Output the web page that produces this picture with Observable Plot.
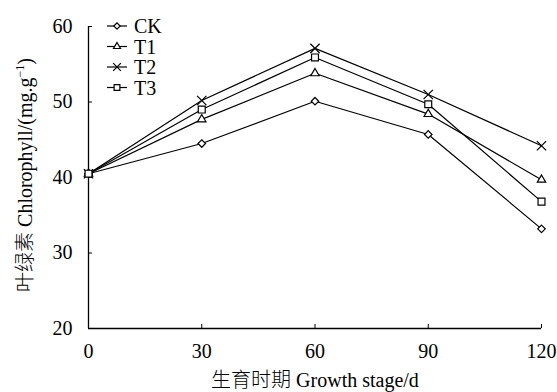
<!DOCTYPE html>
<html><head><meta charset="utf-8">
<script src="https://cdn.jsdelivr.net/npm/d3@7"></script>
<script src="https://cdn.jsdelivr.net/npm/@observablehq/plot@0.6"></script>
<style>body{margin:0;background:#fff}#chart{position:relative;width:557px;height:392px}</style>
</head><body><div id="chart"></div>
<script>
const days = [0, 30, 60, 90, 120];
const seriesNames = ["CK", "T1", "T2", "T3"];
const CK = [40.5, 44.5, 50.1, 45.7, 33.2];
const T1 = [40.5, 47.7, 53.8, 48.4, 39.7];
const T2 = [40.5, 50.2, 57.1, 51.0, 44.2];
const T3 = [40.5, 49.0, 55.9, 49.7, 36.8];
const yTicks = [20, 30, 40, 50, 60];
const xTicks = [0, 30, 60, 90, 120];
const xTitleZh = "生育时期";
const xTitleEn = " Growth stage/d";
const yTitleZh = "叶绿素";
const yTitleEn = " Chlorophyll/(mg.g";
const yTitleSup = "−1";

const valuesBy = {CK, T1, T2, T3};
const symbolBy = {CK: "diamond2", T1: "triangle2", T2: "times", T3: "square2"};
const rBy = {CK: 3.4, T1: 4.0, T2: 4.3, T3: 4.4};
const rows = seriesNames.flatMap(s => days.map((d, i) => ({series: s, day: d, value: valuesBy[s][i]})));

const font = "'Liberation Serif','Times New Roman','Noto Sans CJK SC',serif";
const FS = 20;
const marks = [
  Plot.axisX({ticks: xTicks, tickSize: -4, tickPadding: 19, label: null, fontSize: FS}),
  Plot.axisY({ticks: yTicks, tickSize: -4, tickPadding: 20, label: null, fontSize: FS}),
  Plot.ruleX([0], {y1: 20, y2: 60, stroke: "black", strokeWidth: 1.3}),
  Plot.ruleY([20], {x1: 0, x2: 120, stroke: "black", strokeWidth: 1.3}),
  Plot.line(rows, {x: "day", y: "value", z: "series", stroke: "black", strokeWidth: 1.2})
];
for (const s of seriesNames) {
  marks.push(Plot.dot(rows.filter(d => d.series === s), {x: "day", y: "value", symbol: symbolBy[s], r: rBy[s], stroke: "black", fill: "white", strokeWidth: 1.2}));
}
const plot = Plot.plot({
  width: 557, height: 392,
  marginLeft: 88, marginRight: 16, marginTop: 26, marginBottom: 64,
  x: {domain: [0, 120]},
  y: {domain: [20, 60]},
  style: {fontFamily: font, fontSize: FS + "px", color: "black", background: "white"},
  marks
});
document.getElementById("chart").appendChild(plot);

const svg = d3.select(plot);
// axis titles
const xt = svg.append("text").attr("x", 315).attr("y", 387).attr("text-anchor", "middle")
  .attr("font-family", font).attr("font-size", FS).attr("fill", "black");
xt.append("tspan").attr("font-weight", 300).text(xTitleZh);
xt.append("tspan").text(xTitleEn);
const yt = svg.append("text").attr("transform", "translate(32,175) rotate(-90)").attr("text-anchor", "middle")
  .attr("font-family", font).attr("font-size", FS).attr("fill", "black");
yt.append("tspan").attr("font-weight", 300).text(yTitleZh);
yt.append("tspan").text(yTitleEn);
yt.append("tspan").attr("dy", -8).attr("font-size", 12).text(yTitleSup);
yt.append("tspan").attr("dy", 8).text(")");

// legend
const symMap = {diamond2: d3.symbolDiamond2, triangle2: d3.symbolTriangle2, times: d3.symbolTimes, square2: d3.symbolSquare2};
const lg = svg.append("g");
seriesNames.forEach((s, i) => {
  const y = 26 + i * 20.5;
  lg.append("line").attr("x1", 107).attr("x2", 127).attr("y1", y).attr("y2", y).attr("stroke", "black").attr("stroke-width", 1.2);
  lg.append("path").attr("transform", `translate(117,${y})`)
    .attr("d", d3.symbol(symMap[symbolBy[s]], Math.PI * rBy[s] * rBy[s] * 0.7)())
    .attr("fill", "white").attr("stroke", "black").attr("stroke-width", 1.2);
  lg.append("text").attr("x", 134).attr("y", y).attr("dy", "0.35em").attr("text-anchor", "start")
    .attr("font-family", font).attr("font-size", FS).attr("fill", "black").text(s);
});
</script></body></html>
